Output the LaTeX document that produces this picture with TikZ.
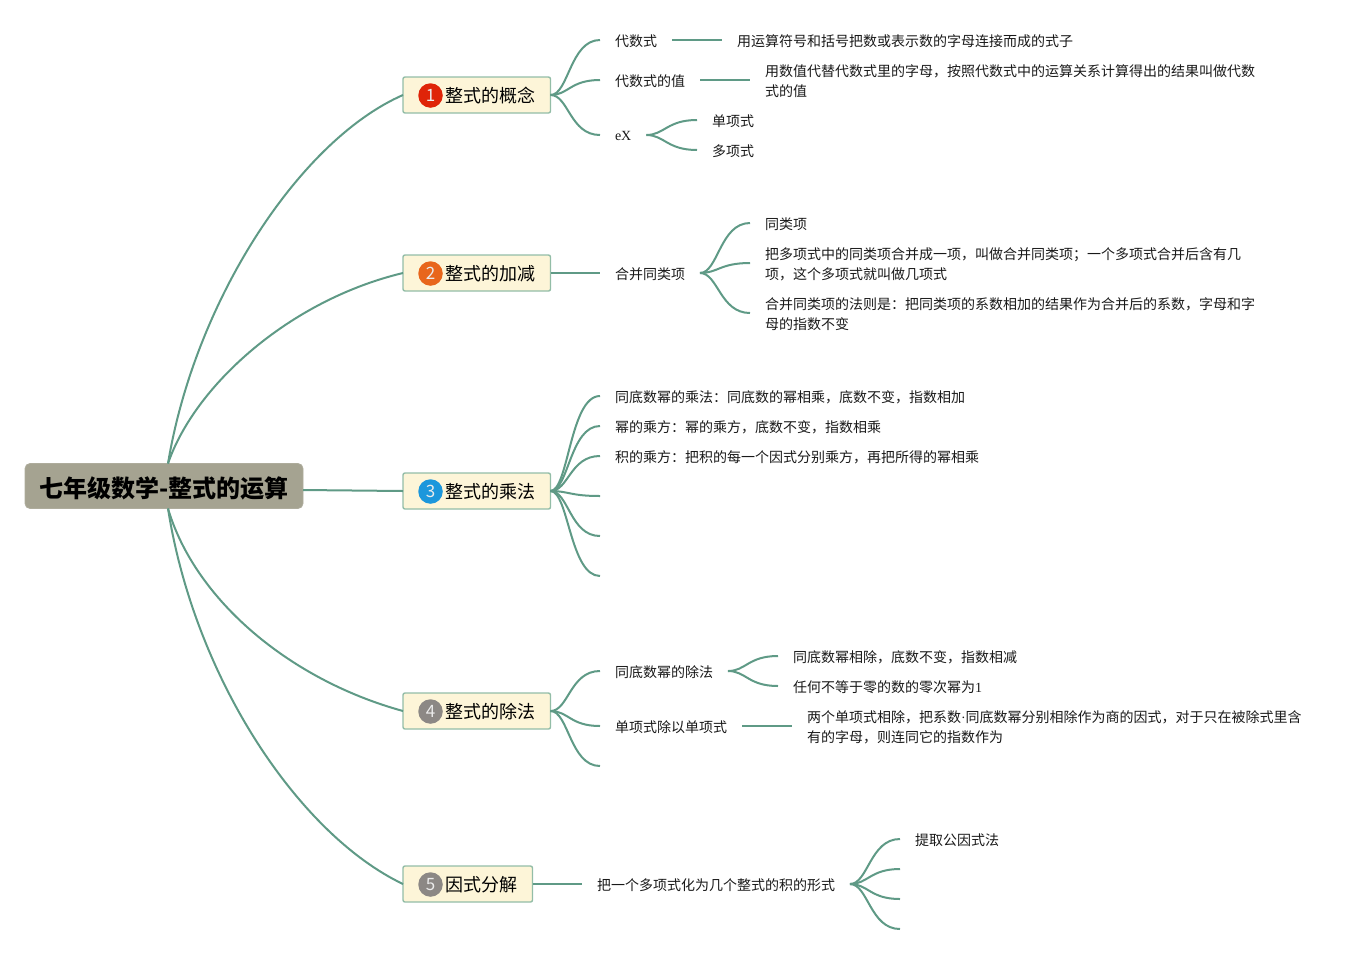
\documentclass[tikz,border=0pt]{standalone}
\usepackage{fontspec}
\setmainfont{Noto Sans CJK SC}
\newfontfamily\serifl{Liberation Serif}
\definecolor{linkc}{HTML}{5F9A86}
\definecolor{rootf}{HTML}{A5A391}
\definecolor{topicf}{HTML}{FDF5D8}
\definecolor{topicb}{HTML}{93BDA7}
\definecolor{bdgA}{HTML}{DF2408}
\definecolor{bdgB}{HTML}{E8661C}
\definecolor{bdgC}{HTML}{1C97DC}
\definecolor{bdgD}{HTML}{8C8885}
\tikzset{
  conn/.style={draw=linkc,line width=2pt},
  rootbox/.style={draw=rootf!90!white,fill=rootf,rounded corners=5pt,line width=.8pt,outer sep=0pt,minimum width=278pt,minimum height=45pt,inner sep=0pt,font=\fontsize{24}{28}\selectfont\bfseries,text=black},
  topicbox/.style={draw=topicb,fill=topicf,rounded corners=2pt,line width=1.4pt,outer sep=0pt,minimum height=36pt,inner xsep=15pt,inner ysep=0pt,anchor=west,font=\fontsize{18}{22}\selectfont,text=black},
  badge/.style={circle,minimum size=24.5pt,inner sep=0pt,text=white!92!black,font=\fontsize{17}{20}\selectfont},
  leaf/.style={anchor=west,yshift=-1.2pt,outer sep=0pt,inner xsep=15pt,inner ysep=0pt,align=left,font=\fontsize{14}{20}\selectfont,text=black!90},
}
% links: first/second argument is a leaf (L), a topic (T) or a coordinate (C)
\newcommand\lkTL[2]{\draw[conn] (#1) .. controls +(18,0) and +(-30,0) .. ([yshift=1.2pt]#2);}
\newcommand\lkTC[2]{\draw[conn] (#1) .. controls +(18,0) and +(-30,0) .. (#2);}
\newcommand\lkLL[2]{\draw[conn] ([yshift=1.2pt]#1) .. controls +(18,0) and +(-30,0) .. ([yshift=1.2pt]#2);}
\newcommand\lkLC[2]{\draw[conn] ([yshift=1.2pt]#1) .. controls +(18,0) and +(-30,0) .. (#2);}
\newcommand\stLL[2]{\draw[conn] ([yshift=1.2pt]#1) -- ([yshift=1.2pt]#2);}
\newcommand\stTL[2]{\draw[conn] (#1) -- ([yshift=1.2pt]#2);}
\newcommand\tp[1]{\raisebox{-1pt}[\height][\depth]{\hspace*{27.5pt}#1}}
\begin{document}
\begin{tikzpicture}[x=1pt,y=-1pt]
\path[use as bounding box] (0,0) rectangle (1367,954);
% root
\node[rootbox] (root) at (164,486) {\raisebox{-2.6pt}[\height][\depth]{\hspace*{.8pt}七年级数学-整式的运算}};
% topics
\node[topicbox] (t1) at (403,95) {\tp{整式的概念}};
\node[topicbox] (t2) at (403,273) {\tp{整式的加减}};
\node[topicbox] (t3) at (403,491) {\tp{整式的乘法}};
\node[topicbox] (t4) at (403,711) {\tp{整式的除法}};
\node[topicbox] (t5) at (403,884) {\tp{因式分解}};
\node[badge,fill=bdgA] (b1) at (430.5,95.5) {1};
\node[badge,fill=bdgB] (b2) at (430.5,273.5) {2};
\node[badge,fill=bdgC] (b3) at (430.5,491.5) {3};
\node[badge,fill=bdgD] (b4) at (430.5,711.5) {4};
\node[badge,fill=bdgD] (b5) at (430.5,884.5) {5};
% root links
\draw[conn] (root.north) ++(4,0) coordinate (r1) .. controls (195,300) and (300,140) .. (t1.west);
\draw[conn] (r1) .. controls (195,385) and (290,300) .. (t2.west);
\draw[conn] ([yshift=-4pt]root.east) -- (t3.west);
\draw[conn] (root.south) ++(4,0) coordinate (r2) .. controls (195,600) and (290,680) .. (t4.west);
\draw[conn] (r2) .. controls (195,680) and (300,835) .. (t5.west);
% topic 1
\node[leaf] (a1) at (600,40) {代数式};
\node[leaf] (a1x) at (722,40) {用运算符号和括号把数或表示数的字母连接而成的式子};
\node[leaf] (a2) at (600,80) {代数式的值};
\node[leaf] (a2x) at (750,80) {用数值代替代数式里的字母，按照代数式中的运算关系计算得出的结果叫做代数\\式的值};
\node[leaf] (a3) at (600,135) {\serifl eX};
\node[leaf] (a31) at (697,120) {单项式};
\node[leaf] (a32) at (697,150) {多项式};
\lkTL{t1.east}{a1.west}\lkTL{t1.east}{a2.west}\lkTL{t1.east}{a3.west}
\stLL{a1.east}{a1x.west}\stLL{a2.east}{a2x.west}
\lkLL{a3.east}{a31.west}\lkLL{a3.east}{a32.west}
% topic 2
\node[leaf] (c1) at (600,273) {合并同类项};
\node[leaf] (c11) at (750,223) {同类项};
\node[leaf] (c12) at (750,263) {把多项式中的同类项合并成一项，叫做合并同类项；一个多项式合并后含有几\\项，这个多项式就叫做几项式};
\node[leaf] (c13) at (750,313) {合并同类项的法则是：把同类项的系数相加的结果作为合并后的系数，字母和字\\母的指数不变};
\stTL{t2.east}{c1.west}
\lkLL{c1.east}{c11.west}\lkLL{c1.east}{c12.west}\lkLL{c1.east}{c13.west}
% topic 3
\node[leaf] (d1) at (600,396) {同底数幂的乘法：同底数的幂相乘，底数不变，指数相加};
\node[leaf] (d2) at (600,426) {幂的乘方：幂的乘方，底数不变，指数相乘};
\node[leaf] (d3) at (600,456) {积的乘方：把积的每一个因式分别乘方，再把所得的幂相乘};
\coordinate (d4) at (600,496);
\coordinate (d5) at (600,536);
\coordinate (d6) at (600,576);
\lkTL{t3.east}{d1.west}\lkTL{t3.east}{d2.west}\lkTL{t3.east}{d3.west}
\lkTC{t3.east}{d4}\lkTC{t3.east}{d5}\lkTC{t3.east}{d6}
% topic 4
\node[leaf] (e1) at (600,671) {同底数幂的除法};
\node[leaf] (e11) at (778,656) {同底数幂相除，底数不变，指数相减};
\node[leaf] (e12) at (778,686) {任何不等于零的数的零次幂为{\serifl 1}};
\node[leaf] (e2) at (600,726) {单项式除以单项式};
\node[leaf] (e2x) at (792,726) {两个单项式相除，把系数{\serifl ·}同底数幂分别相除作为商的因式，对于只在被除式里含\\有的字母，则连同它的指数作为};
\coordinate (e3) at (600,766);
\lkTL{t4.east}{e1.west}\lkTL{t4.east}{e2.west}\lkTC{t4.east}{e3}
\lkLL{e1.east}{e11.west}\lkLL{e1.east}{e12.west}
\stLL{e2.east}{e2x.west}
% topic 5
\node[leaf] (f1) at (582,884) {把一个多项式化为几个整式的积的形式};
\node[leaf] (f11) at (900,839) {提取公因式法};
\coordinate (f12) at (900,869);
\coordinate (f13) at (900,899);
\coordinate (f14) at (900,929);
\stTL{t5.east}{f1.west}
\lkLL{f1.east}{f11.west}\lkLC{f1.east}{f12}\lkLC{f1.east}{f13}\lkLC{f1.east}{f14}
\end{tikzpicture}
\end{document}
